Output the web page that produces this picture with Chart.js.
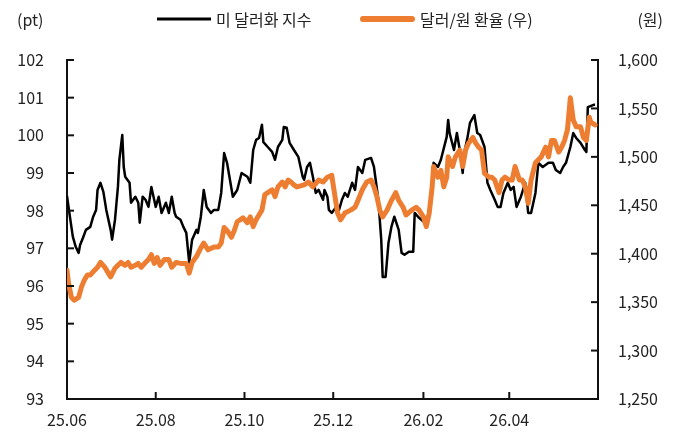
<!DOCTYPE html>
<html>
<head>
<meta charset="utf-8">
<script src="https://cdn.jsdelivr.net/npm/chart.js@4/dist/chart.umd.min.js"></script>
<style>
  html, body { margin: 0; padding: 0; background: #fff; }
</style>
</head>
<body>
<canvas id="chart" width="682" height="444"></canvas>
<script>
// days counted from 2025-06-01
const dxyDays = [0,2,4,6,8,9,11,13,16,18,20,21,23,25,27,30,31,33,35,36,38,39,40,43,44,47,49,50,52,54,56,58,61,63,65,68,70,72,74,75,78,80,82,84,86,89,90,92,94,96,99,101,104,106,108,110,114,117,120,124,126,128,130,132,134,135,138,141,143,145,148,149,151,153,156,159,162,163,165,167,169,171,173,176,177,179,180,182,185,187,189,191,193,196,198,200,203,205,209,211,214,216,217,219,221,223,225,228,230,232,235,238,239,242,246,248,250,252,255,257,261,262,263,266,268,270,272,273,275,277,280,282,284,287,289,291,294,296,298,300,303,305,307,309,312,315,317,319,322,324,327,331,334,336,339,341,343,346,348,350,353,356,357,358,362,363];
const dxyValues = [98.39,97.84,97.31,97.04,96.88,97.09,97.28,97.49,97.57,97.84,98.02,98.55,98.74,98.50,98.02,97.49,97.23,97.76,98.63,99.35,100.01,99.16,98.90,98.74,98.21,98.37,98.21,97.68,98.37,98.29,98.10,98.63,98.10,98.37,97.94,98.21,97.94,98.37,97.94,97.84,97.76,97.57,97.41,96.62,97.23,97.49,97.41,97.84,98.55,98.10,97.94,98.02,98.02,98.47,99.53,99.27,98.37,98.55,99.00,98.90,98.74,99.61,99.88,99.93,100.28,99.82,99.69,99.56,99.35,99.69,99.88,100.22,100.20,99.80,99.61,99.43,98.90,98.82,99.16,99.27,98.90,98.47,98.55,98.29,98.55,98.37,98.02,97.94,98.10,98.02,98.29,98.47,98.37,98.74,98.55,99.16,99.00,99.35,99.40,99.16,98.29,97.23,96.24,96.24,97.15,97.57,97.84,97.49,96.88,96.83,96.91,96.91,97.94,97.81,97.68,97.84,98.21,99.27,99.16,99.35,99.96,100.41,100.06,99.61,100.06,99.61,99.00,99.53,99.88,100.33,100.54,100.06,100.01,99.69,98.74,98.55,98.29,98.10,98.10,98.47,98.74,98.55,98.63,98.10,98.37,98.74,97.94,97.94,98.47,99.27,99.16,99.27,99.27,99.08,99.00,99.16,99.27,99.69,100.06,99.93,99.80,99.61,99.56,100.75,100.81,100.81];
const krwDays = [0,1,3,5,8,10,12,14,16,19,21,23,26,28,30,33,35,37,40,42,44,47,49,51,54,56,58,60,62,64,67,70,72,75,78,82,84,86,89,92,94,97,101,104,106,108,110,113,115,117,121,124,126,128,130,134,136,138,141,143,145,148,150,152,154,156,158,163,166,169,173,176,179,182,184,186,188,191,195,198,200,203,206,209,211,213,215,217,220,223,226,228,231,233,237,240,242,245,247,249,251,252,255,257,259,261,262,265,267,270,272,274,276,279,281,283,285,287,290,292,294,297,299,301,304,306,308,311,313,315,317,319,322,324,326,329,331,333,335,338,340,342,344,346,348,350,353,355,357,359,360,363];
const krwValues = [1383,1370,1355,1352,1355,1366,1373,1378,1378,1383,1386,1391,1386,1381,1376,1385,1388,1391,1388,1391,1386,1388,1390,1386,1391,1394,1399,1390,1396,1388,1394,1394,1386,1391,1390,1390,1380,1391,1397,1406,1411,1404,1407,1407,1411,1427,1424,1417,1424,1433,1437,1432,1438,1428,1435,1445,1461,1463,1466,1459,1469,1474,1469,1476,1474,1471,1469,1471,1474,1469,1476,1474,1479,1481,1461,1442,1435,1442,1445,1448,1455,1466,1474,1476,1469,1459,1445,1438,1445,1455,1463,1455,1448,1440,1445,1448,1445,1438,1428,1442,1469,1490,1479,1486,1469,1479,1500,1490,1500,1507,1490,1507,1514,1520,1514,1510,1507,1483,1479,1479,1476,1463,1476,1479,1476,1476,1490,1476,1476,1469,1452,1476,1494,1497,1500,1510,1500,1517,1517,1505,1510,1517,1528,1561,1538,1531,1531,1520,1517,1541,1536,1533];

const tickDays = [0, 61, 122, 183, 245, 304, 365];
const tickLabels = ['25.06', '25.08', '25.10', '25.12', '26.02', '26.04', ''];
const seriesNames = ['미 달러화 지수', '달러/원 환율 (우)'];
const unitLeft = '(pt)';
const unitRight = '(원)';

const FONT = '"Noto Sans CJK KR", "Noto Sans", sans-serif';
const TEXT = '#222';
const AXIS = '#111';

const frame = {
  id: 'frame',
  afterDraw(chart) {
    const { ctx, chartArea: a, scales } = chart;
    ctx.save();
    ctx.strokeStyle = AXIS;
    ctx.lineWidth = 2;
    const seg = (x1, y1, x2, y2) => { ctx.beginPath(); ctx.moveTo(x1, y1); ctx.lineTo(x2, y2); ctx.stroke(); };
    // tick marks point inwards
    scales.y.ticks.forEach(t => { const p = scales.y.getPixelForValue(t.value); seg(a.left, p, a.left + 7, p); });
    scales.y2.ticks.forEach(t => { const p = scales.y2.getPixelForValue(t.value); seg(a.right - 7, p, a.right, p); });
    scales.x.ticks.forEach(t => {
      if (t.value <= 0 || t.value >= 365) return;
      const p = scales.x.getPixelForValue(t.value);
      seg(p, a.bottom, p, a.bottom - 7);
    });

    ctx.font = '16px ' + FONT;
    ctx.fillStyle = TEXT;
    ctx.textBaseline = 'middle';
    ctx.textAlign = 'left';
    ctx.fillText(unitLeft, 17, 20);
    ctx.textAlign = 'right';
    ctx.fillText(unitRight, 663, 20);

    // legend
    const ds = chart.data.datasets;
    const items = [{ x1: 157, x2: 211, tx: 216 }, { x1: 363, x2: 412, tx: 420 }];
    items.forEach((it, i) => {
      ctx.strokeStyle = ds[i].borderColor;
      ctx.lineWidth = i === 0 ? 3 : 6;
      ctx.lineCap = i === 0 ? 'butt' : 'round';
      seg(it.x1, 19, it.x2, 19);
      ctx.textAlign = 'left';
      ctx.fillText(ds[i].label, it.tx, 20);
    });
    ctx.restore();
  }
};

const tickFont = { family: FONT, size: 16 };

new Chart(document.getElementById('chart'), {
  type: 'line',
  data: {
    datasets: [
      {
        label: seriesNames[0],
        data: dxyDays.map((d, i) => ({ x: d, y: dxyValues[i] })),
        yAxisID: 'y',
        borderColor: '#000',
        borderWidth: 2.5,
        borderJoinStyle: 'round',
        pointRadius: 0,
        order: 1
      },
      {
        label: seriesNames[1],
        data: krwDays.map((d, i) => ({ x: d, y: krwValues[i] })),
        yAxisID: 'y2',
        borderColor: '#ED7D31',
        borderWidth: 5,
        borderJoinStyle: 'round',
        borderCapStyle: 'round',
        pointRadius: 0,
        order: 0
      }
    ]
  },
  options: {
    responsive: false,
    animation: false,
    devicePixelRatio: 1,
    layout: { padding: { top: 60, left: 0, right: 0, bottom: 0 } },
    plugins: { legend: { display: false }, tooltip: { enabled: false } },
    elements: { line: { tension: 0 } },
    scales: {
      x: {
        type: 'linear',
        min: 0,
        max: 365,
        afterBuildTicks: s => { s.ticks = tickDays.map(v => ({ value: v })); },
        afterFit: s => { s.height = 45; },
        grid: { display: false, drawTicks: false },
        border: { display: true, color: AXIS, width: 2 },
        ticks: {
          padding: 11, autoSkip: false, maxRotation: 0, color: TEXT, font: tickFont,
          callback: v => tickLabels[tickDays.indexOf(v)]
        }
      },
      y: {
        position: 'left',
        min: 93,
        max: 102,
        afterFit: s => { s.width = 67; },
        grid: { display: false, drawTicks: false },
        border: { display: true, color: AXIS, width: 2 },
        ticks: { stepSize: 1, padding: 23, color: TEXT, font: tickFont }
      },
      y2: {
        position: 'right',
        min: 1250,
        max: 1600,
        afterFit: s => { s.width = 84; },
        grid: { display: false, drawTicks: false },
        border: { display: true, color: AXIS, width: 2 },
        ticks: { stepSize: 50, padding: 20, color: TEXT, font: tickFont, callback: v => v.toLocaleString('en-US') }
      }
    }
  },
  plugins: [frame]
});
</script>
</body>
</html>
